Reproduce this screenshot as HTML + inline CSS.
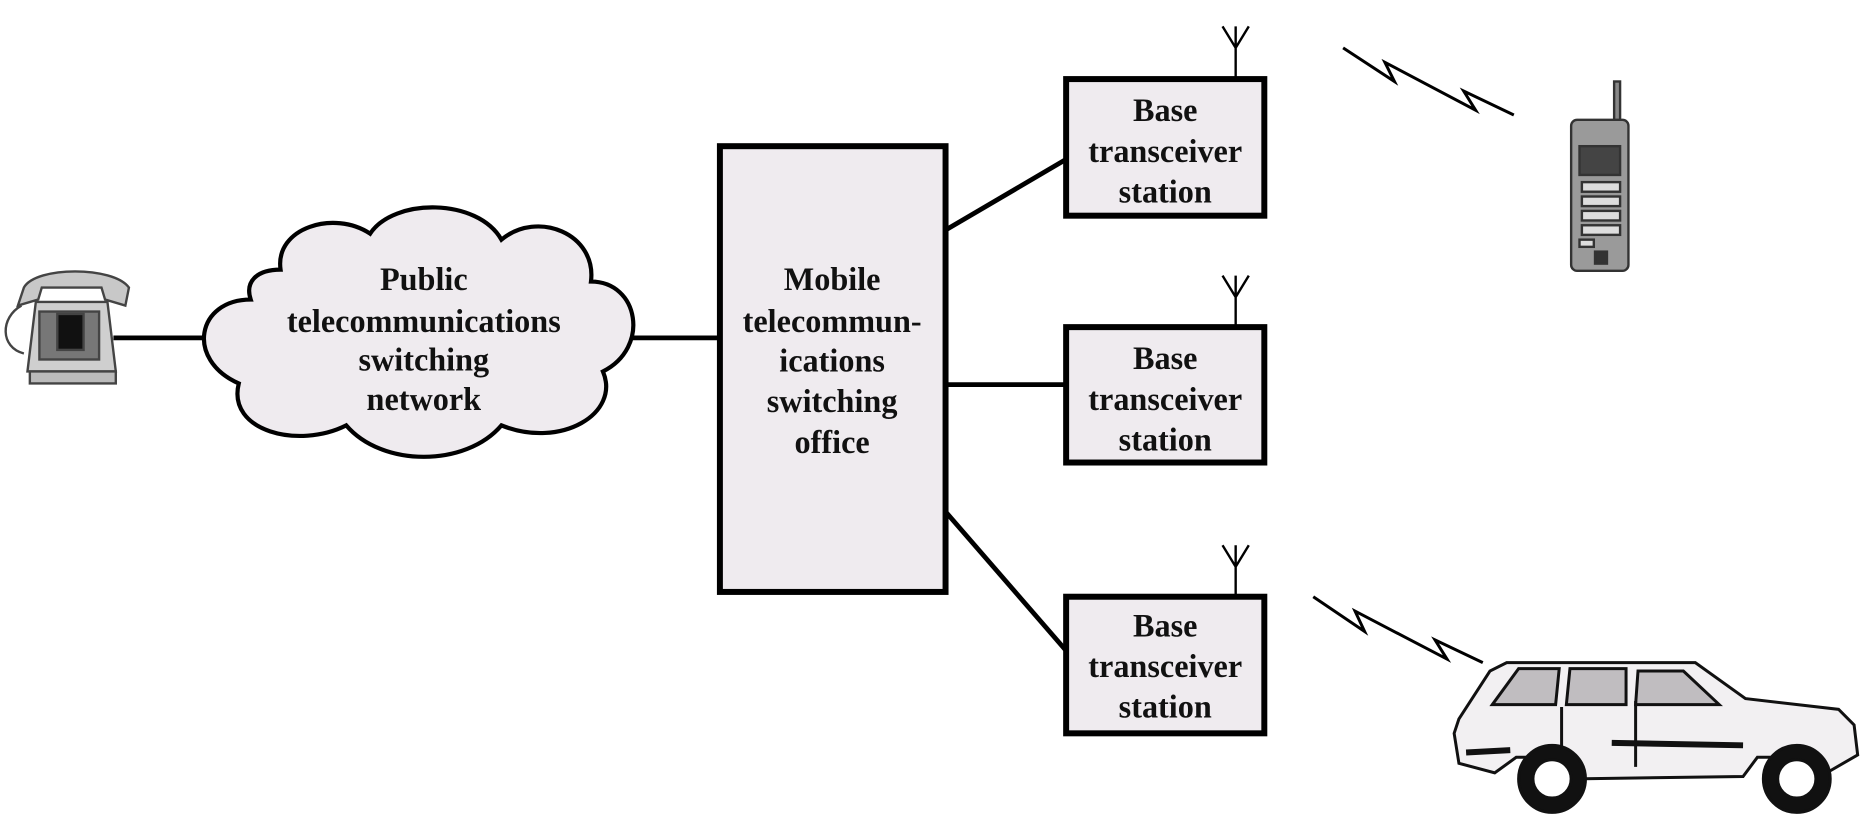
<!DOCTYPE html>
<html><head><meta charset="utf-8"><style>
html,body{margin:0;padding:0;background:#fff;}
svg{display:block;}
text{font-family:"Liberation Serif",serif;font-weight:bold;font-size:27px;fill:#111;text-anchor:middle;}
</style></head><body>
<svg width="1872" height="822" viewBox="0 0 1568 686" preserveAspectRatio="none" xmlns="http://www.w3.org/2000/svg">
<rect width="1568" height="686" fill="#fff"/>
<g stroke="#000" stroke-width="4" fill="none">
<line x1="95" y1="282" x2="170" y2="282"/>
<line x1="528" y1="282" x2="603" y2="282"/>
<line x1="792" y1="192" x2="893" y2="133"/>
<line x1="792" y1="321" x2="893" y2="321"/>
<line x1="792" y1="427" x2="893" y2="543"/>
</g>
<path d="M210,250 C165,250 155,300 200,320 C190,360 250,375 290,355 C320,390 390,390 420,355 C470,375 520,345 505,310 C545,290 535,235 495,235 C500,195 450,175 420,200 C400,165 330,165 310,195 C280,175 230,190 235,225 C215,225 205,235 210,250 Z" fill="#efebef" stroke="#000" stroke-width="3.5"/>
<text x="355" y="242">Public</text>
<text x="355" y="277">telecommunications</text>
<text x="355" y="309">switching</text>
<text x="355" y="342">network</text>
<rect x="603" y="122" width="189" height="372" fill="#efebef" stroke="#000" stroke-width="5"/>
<text x="697" y="242">Mobile</text>
<text x="697" y="277">telecommun-</text>
<text x="697" y="310">ications</text>
<text x="697" y="344">switching</text>
<text x="697" y="378">office</text>
<g stroke="#000" stroke-width="2" fill="none">
<path d="M1035,66 V22 M1035,40 L1024,22 M1035,40 L1046,22"/>
<path d="M1035,273 V230 M1035,248 L1024,230 M1035,248 L1046,230"/>
<path d="M1035,498 V455 M1035,473 L1024,455 M1035,473 L1046,455"/>
</g>
<g fill="#efebef" stroke="#000" stroke-width="5">
<rect x="893" y="66" width="166" height="114"/>
<rect x="893" y="273" width="166" height="113"/>
<rect x="893" y="498" width="166" height="114"/>
</g>
<text x="976" y="101">Base</text><text x="976" y="135">transceiver</text><text x="976" y="169">station</text>
<text x="976" y="308">Base</text><text x="976" y="342">transceiver</text><text x="976" y="376">station</text>
<text x="976" y="531">Base</text><text x="976" y="565">transceiver</text><text x="976" y="599">station</text>
<g stroke="#000" stroke-width="2.5" fill="none">
<path d="M1125,40 L1168,68 L1160,52 L1236,92 L1226,76 L1268,96"/>
<path d="M1100,498 L1143,527 L1135,510 L1212,550 L1202,534 L1242,553"/>
</g>
<g stroke="#444" stroke-width="2">
<path d="M20,240 C30,222 95,222 108,240 L105,255 L88,250 L85,240 L35,240 L32,250 L15,255 Z" fill="#c8c8c8"/>
<path d="M30,252 L90,252 L97,310 L23,310 Z" fill="#cfcfcf"/>
<rect x="33" y="260" width="50" height="40" fill="#777"/>
<rect x="48" y="262" width="22" height="30" fill="#111"/>
<path d="M25,310 L97,310 L97,320 L25,320 Z" fill="#bbb"/>
<path d="M18,255 C0,265 0,290 20,295" fill="none"/>
</g>
<g stroke="#333" stroke-width="2">
<rect x="1352" y="68" width="5" height="35" fill="#888"/>
<rect x="1316" y="100" width="48" height="126" rx="5" fill="#9a9a9a"/>
<rect x="1323" y="122" width="34" height="24" fill="#444"/>
<rect x="1325" y="152" width="32" height="8" fill="#ddd"/>
<rect x="1325" y="164" width="32" height="8" fill="#ddd"/>
<rect x="1325" y="176" width="32" height="8" fill="#ddd"/>
<rect x="1325" y="188" width="32" height="8" fill="#ddd"/>
<rect x="1323" y="200" width="12" height="6" fill="#ddd"/>
<rect x="1336" y="210" width="10" height="10" fill="#333"/>
</g>
<g stroke="#111" stroke-width="2.5">
<path d="M1222,600 L1248,560 L1262,553 L1420,553 L1462,583 L1540,592 L1553,605 L1556,630 L1530,645 L1500,632 L1472,632 L1460,648 L1320,650 L1300,632 L1270,632 L1252,645 L1222,637 L1218,612 Z" fill="#f2f0f2"/>
<path d="M1250,588 L1272,558 L1306,558 L1303,588 Z" fill="#c0bdc0"/>
<path d="M1312,588 L1315,558 L1362,558 L1362,588 Z" fill="#c0bdc0"/>
<path d="M1370,588 L1372,560 L1410,560 L1440,588 Z" fill="#c0bdc0"/>
<path d="M1228,628 L1265,626 M1350,620 L1460,622" stroke-width="5"/>
<path d="M1370,585 L1370,640 M1308,590 L1308,640"/>
<circle cx="1300" cy="650" r="28" fill="#111"/>
<circle cx="1300" cy="650" r="16" fill="#fff"/>
<circle cx="1505" cy="650" r="28" fill="#111"/>
<circle cx="1505" cy="650" r="16" fill="#fff"/>
</g>
</svg>
</body></html>
